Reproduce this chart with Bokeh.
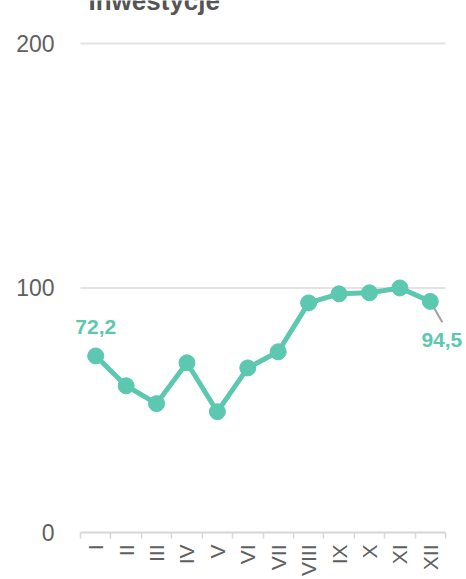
from bokeh.plotting import figure
from bokeh.models import Range1d, FixedTicker, Label, ColumnDataSource
from bokeh.embed import file_html
from bokeh.resources import INLINE
import math

title_text = "Inwestycje"
months = ["I", "II", "III", "IV", "V", "VI", "VII", "VIII", "IX", "X", "XI", "XII"]
values = [72.2, 60.0, 52.7, 69.4, 49.4, 67.3, 73.9, 93.9, 97.6, 98.0, 100.0, 94.5]
y_ticks = [0, 100, 200]

teal = "#5cc8b0"
xs = list(range(1, len(months) + 1))

# layout in pixels (canvas coordinates)
frame_left, plot_left, plot_right, canvas_w, canvas_h = 64, 80, 445, 466, 579
bottom_px = 533
px_per_cat = (plot_right - plot_left) / len(months)
px_per_unit = (bottom_px - 43) / y_ticks[-1]
x_start = 0.5 - (plot_left - frame_left) / px_per_cat
x_end = 0.5 + (canvas_w - plot_left) / px_per_cat
y_end = bottom_px / px_per_unit

p = figure(width=canvas_w, height=canvas_h, output_backend="svg",
           toolbar_location=None,
           x_range=Range1d(x_start, x_end), y_range=Range1d(0, y_end),
           min_border_left=frame_left, min_border_right=0, min_border_top=0,
           min_border_bottom=canvas_h - bottom_px)
p.outline_line_color = None
p.background_fill_color = "white"
p.border_fill_color = "white"

# y axis
p.yaxis.ticker = FixedTicker(ticks=y_ticks)
p.yaxis.axis_line_color = None
p.yaxis.major_tick_line_color = None
p.yaxis.minor_tick_line_color = None
p.yaxis.major_label_text_font = "Liberation Sans"
p.yaxis.major_label_text_font_size = "23px"
p.yaxis.major_label_text_color = "#606060"
p.yaxis.major_label_standoff = 20 - (plot_left - frame_left)

# x axis
p.xaxis.ticker = FixedTicker(ticks=xs, minor_ticks=[x - 0.5 for x in xs] + [len(xs) + 0.5])
p.xaxis.bounds = (0.5, len(xs) + 0.5)
p.xaxis.major_label_overrides = {x: m for x, m in zip(xs, months)}
p.xaxis.axis_line_color = "#d6d6d6"
p.xaxis.axis_line_width = 2
p.xaxis.major_tick_line_color = None
p.xaxis.major_tick_out = 0
p.xaxis.major_tick_in = 0
p.xaxis.minor_tick_line_color = "#d6d6d6"
p.xaxis.minor_tick_line_width = 1.5
p.xaxis.minor_tick_out = 6
p.xaxis.minor_tick_in = 0
p.xaxis.major_label_orientation = math.pi / 2
p.xaxis.major_label_text_font = "Liberation Sans"
p.xaxis.major_label_text_font_size = "21px"
p.xaxis.major_label_text_color = "#606060"
p.xaxis.major_label_standoff = 6

p.xgrid.grid_line_color = None
p.ygrid.grid_line_color = None
grid = ColumnDataSource(dict(x0=[0.5] * len(y_ticks[1:]), x1=[len(xs) + 0.5] * len(y_ticks[1:]),
                             y=y_ticks[1:]))
p.segment(x0="x0", y0="y", x1="x1", y1="y", source=grid, line_color="#e3e3e3", line_width=2)

# leader line for last label
last_x, last_y = xs[-1], values[-1]
lead = ColumnDataSource(dict(x0=[last_x], y0=[last_y], x1=[last_x + 12 / px_per_cat],
                             y1=[last_y - 21 / px_per_unit]))
p.segment(x0="x0", y0="y0", x1="x1", y1="y1", source=lead, line_color="#a0a0a0", line_width=2)

p.line(xs, values, line_color=teal, line_width=5)
p.scatter(xs, values, size=16, fill_color=teal, line_color=teal)

fmt = lambda v: f"{v:.1f}".replace(".", ",")
p.add_layout(Label(x=xs[0], y=values[0], text=fmt(values[0]), text_align="center",
                   text_baseline="alphabetic", y_offset=29, text_color=teal,
                   text_font="Liberation Sans", text_font_style="bold", text_font_size="21px"))
p.add_layout(Label(x=last_x, y=last_y, text=fmt(last_y), text_align="right",
                   text_baseline="alphabetic", x_offset=32, y_offset=-39, text_color=teal,
                   text_font="Liberation Sans", text_font_style="bold", text_font_size="21px"))

# title, partly cut off at the top as in the original
p.add_layout(Label(x=0.5 + (88 - plot_left) / px_per_cat, y=bottom_px / px_per_unit,
                   text=title_text, text_align="left", text_baseline="alphabetic",
                   text_color="#555555", text_font="Liberation Sans", text_font_style="bold",
                   text_font_size="26px"))

open("out.html", "w").write(file_html(p, INLINE))
